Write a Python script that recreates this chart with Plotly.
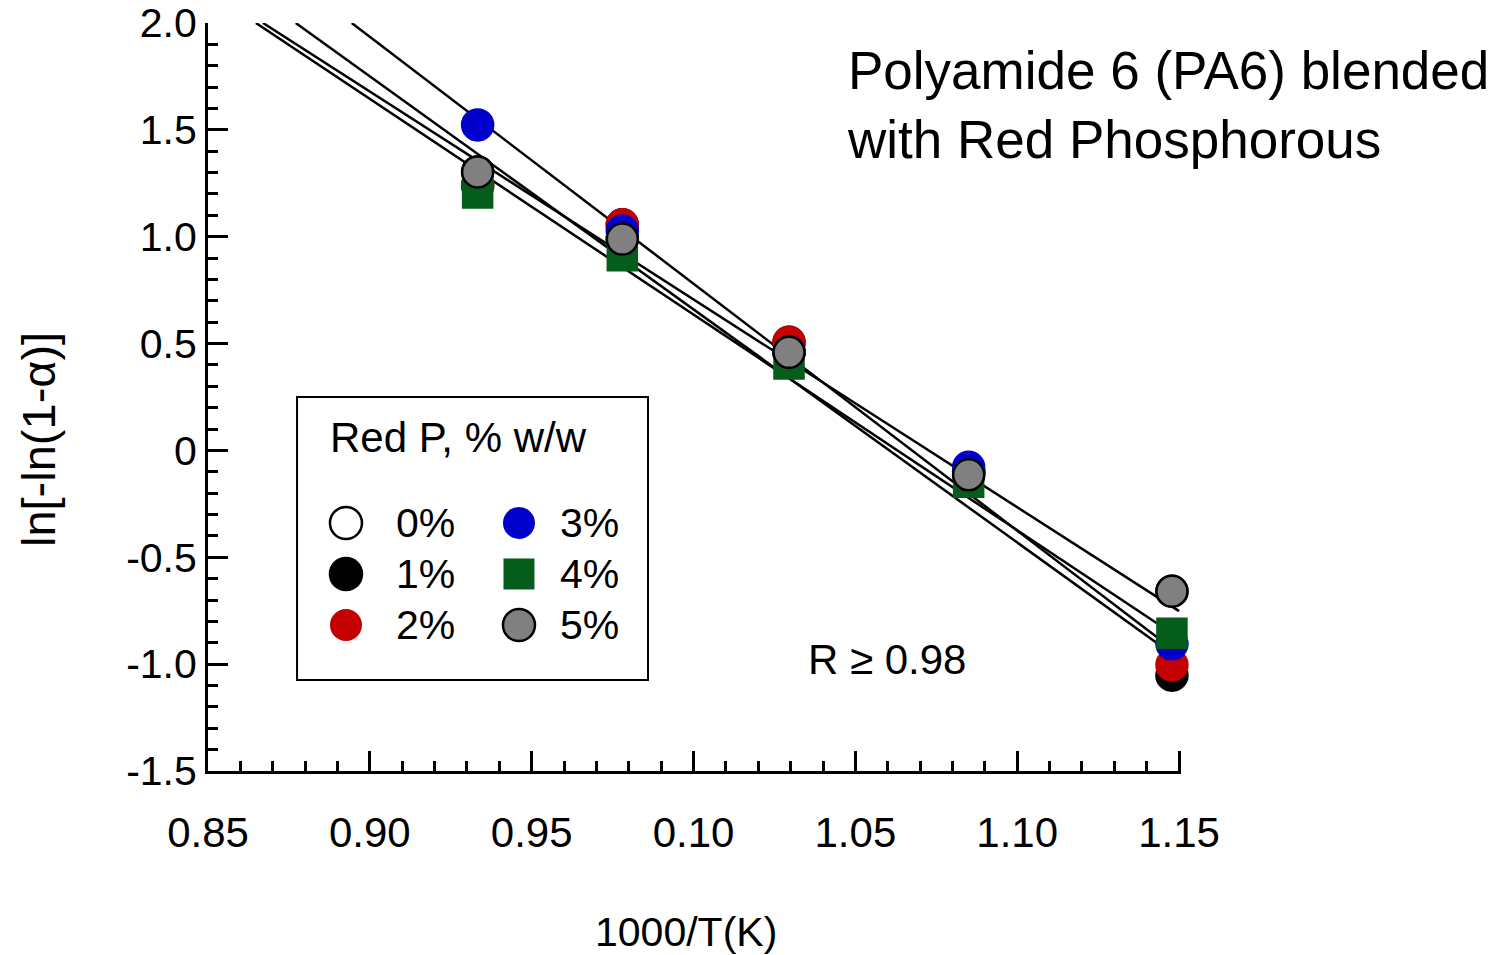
import plotly.graph_objects as go

# ---------------- data ----------------
x_inv_T = [0.9333, 0.978, 1.0295, 1.085, 1.1478]   # 1000/T(K)

series_names = ["0%", "1%", "2%", "3%", "4%", "5%"]
y_0 = [1.303, 0.989, 0.459, -0.114, -0.659]
y_1 = [1.240, 1.056, 0.506, -0.100, -1.052]
y_2 = [1.240, 1.056, 0.506, -0.100, -1.004]
y_3 = [1.523, 1.027, 0.460, -0.079, -0.905]
y_4 = [1.205, 0.911, 0.404, -0.149, -0.856]
y_5 = [1.303, 0.989, 0.459, -0.114, -0.659]
series_y = [y_0, y_1, y_2, y_3, y_4, y_5]

# fitted straight lines: x where the line leaves the top (y = 2.0) and y at x = 1.15
fit_names = ["2%", "3%", "4%", "5%"]
fit_x_top = [0.8771, 0.8944, 0.8648, 0.8670]
fit_y_top = [2.0, 2.0, 2.0, 2.0]
fit_x_end = [1.15, 1.15, 1.15, 1.15]
fit_y_end = [-0.976, -0.953, -0.878, -0.752]

x_tickvals = [0.85, 0.90, 0.95, 1.00, 1.05, 1.10, 1.15]
x_ticktext = ["0.85", "0.90", "0.95", "0.10", "1.05", "1.10", "1.15"]
y_tickvals = [-1.5, -1.0, -0.5, 0.0, 0.5, 1.0, 1.5, 2.0]
y_ticktext = ["-1.5", "-1.0", "-0.5", "0", "0.5", "1.0", "1.5", "2.0"]

# ---------------- styles ----------------
FONT = "Arial, 'Liberation Sans', sans-serif"
styles = {
    "0%": dict(symbol="circle", color="white", line="black"),
    "1%": dict(symbol="circle", color="black", line="black"),
    "2%": dict(symbol="circle", color="#c40000", line="#c40000"),
    "3%": dict(symbol="circle", color="#0000cc", line="#0000cc"),
    "4%": dict(symbol="square", color="#055d1b", line="#055d1b"),
    "5%": dict(symbol="circle", color="#808080", line="black"),
}

fig = go.Figure()

# regression lines
for name, x0, y0, x1, y1 in zip(fit_names, fit_x_top, fit_y_top, fit_x_end, fit_y_end):
    fig.add_trace(go.Scatter(
        x=[x0, x1], y=[y0, y1], mode="lines",
        line=dict(color="black", width=2.5),
        showlegend=False, hoverinfo="skip", name=f"fit {name}",
    ))

# data markers
for name, ys in zip(series_names, series_y):
    st = styles[name]
    sz = 31 if st["symbol"] == "circle" else 29
    fig.add_trace(go.Scatter(
        x=x_inv_T, y=ys, mode="markers", name=name,
        marker=dict(symbol=st["symbol"], size=sz, color=st["color"],
                    line=dict(color=st["line"], width=2.5)),
        showlegend=False, cliponaxis=False,
    ))

# ---------------- manual legend (box, keys, labels) ----------------
shapes = []
annotations = []
shapes.append(dict(type="rect", xref="paper", yref="paper",
                   x0=0.0915, x1=0.4522, y0=0.1217, y1=0.5,
                   line=dict(color="black", width=2), fillcolor="white", layer="below"))
annotations.append(dict(text="Red P, % w/w", xref="paper", yref="paper",
                        x=0.1234, y=0.4452, xanchor="left", yanchor="middle",
                        showarrow=False, font=dict(family=FONT, size=42, color="black")))
key_cols = [0.1418, 0.3196]
lab_cols = [0.1915, 0.3600]
key_rows = [0.3316, 0.2634, 0.1952]
for i, name in enumerate(series_names):
    col, row = divmod(i, 3)
    st = styles[name]
    kx, ky = key_cols[col], key_rows[row]
    half = 16 if st["symbol"] == "circle" else 15.5
    shapes.append(dict(type="circle" if st["symbol"] == "circle" else "rect",
                       xref="paper", yref="paper",
                       xsizemode="pixel", ysizemode="pixel",
                       xanchor=kx, yanchor=ky,
                       x0=-half, x1=half, y0=-half, y1=half,
                       fillcolor=st["color"],
                       line=dict(color=st["line"], width=2.5 if st["line"] == "black" else 0)))
    annotations.append(dict(text=name, xref="paper", yref="paper",
                            x=lab_cols[col], y=ky, xanchor="left", yanchor="middle",
                            showarrow=False, font=dict(family=FONT, size=41, color="black")))

# chart caption and R note
annotations.append(dict(text="Polyamide 6 (PA6) blended<br>with Red Phosphorous",
                        xref="paper", yref="paper", x=0.6547, y=0.890,
                        xanchor="left", yanchor="middle", align="left",
                        showarrow=False, font=dict(family=FONT, size=53, color="black")))
annotations.append(dict(text="R \u2265 0.98", xref="paper", yref="paper",
                        x=0.6978, y=0.1484, xanchor="center", yanchor="middle",
                        showarrow=False, font=dict(family=FONT, size=42, color="black")))
# axis titles
annotations.append(dict(text="ln[-ln(1-\u03b1)]", xref="paper", yref="paper",
                        x=-0.1747, y=0.4425, xanchor="center", yanchor="middle",
                        textangle=-90, showarrow=False,
                        font=dict(family=FONT, size=47, color="black")))
annotations.append(dict(text="1000/T(K)", xref="paper", yref="paper",
                        x=0.4913, y=-0.2152, xanchor="center", yanchor="middle",
                        showarrow=False, font=dict(family=FONT, size=41, color="black")))

fig.update_layout(
    width=1506, height=955,
    margin=dict(l=208, r=325, t=23, b=184),
    paper_bgcolor="white", plot_bgcolor="white",
    font=dict(family=FONT, size=40, color="black"),
    shapes=shapes, annotations=annotations,
    showlegend=False,
)

fig.update_xaxes(
    range=[0.85, 1.1506], showgrid=False, zeroline=False,
    showline=True, linecolor="black", linewidth=3,
    ticks="inside", ticklen=20, tickwidth=2.5, tickcolor="black",
    tickvals=x_tickvals, ticktext=x_ticktext, ticklabelstandoff=23,
    tickfont=dict(family=FONT, size=42),
    minor=dict(dtick=0.01, tick0=0.85, ticks="inside", ticklen=10, tickwidth=2.5, tickcolor="black"),
    automargin=False,
)
fig.update_yaxes(
    range=[-1.5, 2.0], showgrid=False, zeroline=False,
    showline=True, linecolor="black", linewidth=3,
    ticks="inside", ticklen=20, tickwidth=2.5, tickcolor="black",
    tickvals=y_tickvals, ticktext=y_ticktext, ticklabelstandoff=0,
    tickfont=dict(family=FONT, size=41),
    minor=dict(dtick=0.1, tick0=-1.5, ticks="inside", ticklen=10, tickwidth=2.5, tickcolor="black"),
    automargin=False,
)

fig.write_html("out.html")
